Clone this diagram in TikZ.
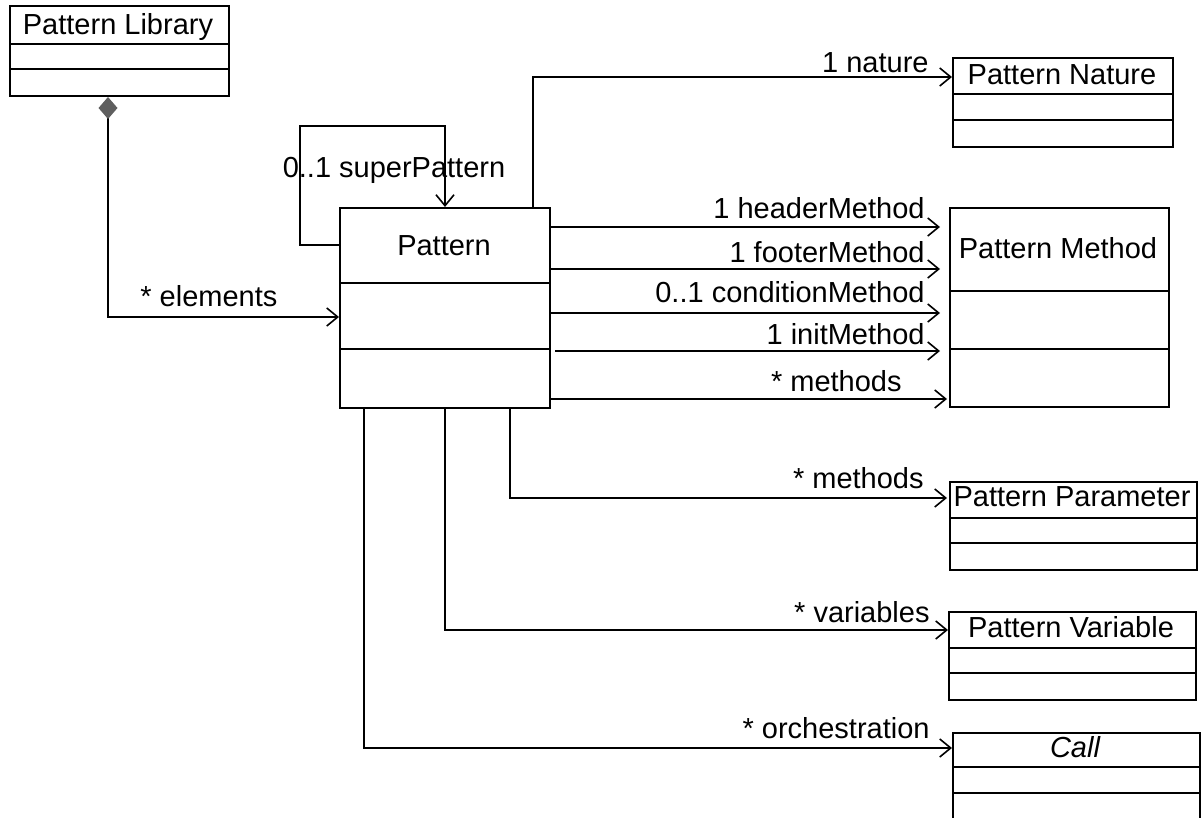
\documentclass[tikz,border=0pt]{standalone}
\usepackage{fontspec}
\setmainfont{Liberation Sans}
\usetikzlibrary{arrows.meta}
\definecolor{dgray}{HTML}{5F5F5F}

\begin{document}
\begin{tikzpicture}[x=0.5pt, y=-0.5pt,
    every node/.style={font=\fontsize{14.5}{17}\selectfont},
    cls/.style={draw, line width=1pt, anchor=north west, inner sep=0pt},
    sep/.style={line width=1pt},
    ttl/.style={anchor=base, inner sep=0pt},
    lbl/.style={anchor=base east, inner sep=0pt},
    assoc/.style={line width=0.8pt, -{Straight Barb[length=5.5pt, width=9pt]}}]
  \useasboundingbox (0,0) rectangle (1201,818);

  % classes
  \node[cls, minimum width=109.5pt, minimum height=45pt] (lib) at (9,5) {};
  \node[ttl] (libname) at (118,35) {Pattern Library};
  \draw[sep] (lib.west |- 0,44) -- (lib.east |- 0,44)
             (lib.west |- 0,69) -- (lib.east |- 0,69);

  \node[cls, minimum width=105pt, minimum height=100pt] (pat) at (339,207) {};
  \node[ttl] (patname) at (444,256) {Pattern};
  \draw[sep] (pat.west |- 0,283) -- (pat.east |- 0,283)
             (pat.west |- 0,349) -- (pat.east |- 0,349);

  \node[cls, minimum width=110pt, minimum height=44.5pt] (nat) at (952,57) {};
  \node[ttl] (natname) at (1062,85) {Pattern Nature};
  \draw[sep] (nat.west |- 0,94) -- (nat.east |- 0,94)
             (nat.west |- 0,120) -- (nat.east |- 0,120);

  \node[cls, minimum width=109.5pt, minimum height=99.5pt] (meth) at (949,207) {};
  \node[ttl] (methname) at (1058,259) {Pattern Method};
  \draw[sep] (meth.west |- 0,291) -- (meth.east |- 0,291)
             (meth.west |- 0,349) -- (meth.east |- 0,349);

  \node[cls, minimum width=123.5pt, minimum height=44pt] (par) at (949,481) {};
  \node[ttl] (parname) at (1072,507) {Pattern Parameter};
  \draw[sep] (par.west |- 0,518) -- (par.east |- 0,518)
             (par.west |- 0,543) -- (par.east |- 0,543);

  \node[cls, minimum width=123.5pt, minimum height=44pt] (var) at (948,611) {};
  \node[ttl] (varname) at (1071,638) {Pattern Variable};
  \draw[sep] (var.west |- 0,648) -- (var.east |- 0,648)
             (var.west |- 0,673) -- (var.east |- 0,673);

  \node[cls, minimum width=123.5pt, minimum height=47.5pt] (call) at (952,732) {};
  \node[ttl] (callname) at (1075,757) {\itshape Call};
  \draw[sep] (call.west |- 0,767) -- (call.east |- 0,767)
             (call.west |- 0,793) -- (call.east |- 0,793);

  % associations
  \draw[line width=0.8pt, {Diamond[color=dgray, fill=dgray, length=11pt, width=9.5pt]}-{Straight Barb[length=5.5pt, width=9pt]}]
    (lib.south -| 108,0) |- (pat.west |- 0,317);
  \node[lbl, anchor=base west] (elem) at (140,307) {* elements};

  \draw[assoc] (pat.west |- 0,245) -- (300,245) -- (300,126) -| (pat.north);
  \node[ttl] (super) at (394,178) {0..1 superPattern};

  \draw[assoc] (pat.north -| 533,0) |- (nat.west |- 0,77);
  \node[lbl] (nature) at (929,73) {1 nature};

  \draw[assoc, shorten >=4.5pt] (pat.east |- 0,227) -- (meth.west |- 0,227);
  \node[lbl] (header) at (925,219) {1 headerMethod};
  \draw[assoc, shorten >=4.5pt] (pat.east |- 0,269) -- (meth.west |- 0,269);
  \node[lbl] (footer) at (925,263) {1 footerMethod};
  \draw[assoc, shorten >=4.5pt] (pat.east |- 0,313) -- (meth.west |- 0,313);
  \node[lbl] (cond) at (925,303) {0..1 conditionMethod};
  \draw[assoc, shorten <=2pt, shorten >=4.5pt] (pat.east |- 0,351) -- (meth.west |- 0,351);
  \node[lbl] (init) at (925,345) {1 initMethod};
  \draw[assoc, shorten >=1pt] (pat.east |- 0,399) -- (meth.west |- 0,399);
  \node[lbl] (meths) at (902,392) {* methods};

  \draw[assoc, shorten >=1pt] (pat.south -| 510,0) |- (par.west |- 0,498);
  \node[lbl] (params) at (924,488) {* methods};

  \draw[assoc] (pat.south) |- (var.west |- 0,630);
  \node[lbl] (vars) at (930,622) {* variables};

  \draw[assoc] (pat.south -| 364,0) |- (call.west |- 0,748);
  \node[lbl] (orch) at (930,738) {* orchestration};
\end{tikzpicture}
\end{document}
